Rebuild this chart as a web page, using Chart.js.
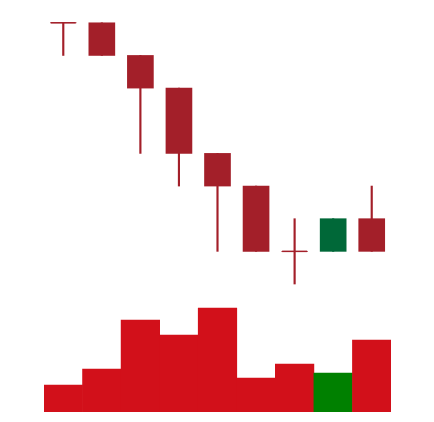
<!DOCTYPE html>
<html>
<head>
<meta charset="utf-8">
<script src="https://cdn.jsdelivr.net/npm/chart.js@4.4.1/dist/chart.umd.min.js"></script>
<style>
html,body{margin:0;padding:0;background:#fff;}
#wrap{width:434px;height:422px;}
</style>
</head>
<body>
<div id="wrap"><canvas id="c" width="434" height="422"></canvas></div>
<script>
const categories = ['1','2','3','4','5','6','7','8','9'];
const openPrices  = [28, 28, 27, 26, 24, 23, 21, 21, 22];
const highPrices  = [28, 28, 27, 26, 24, 23, 22, 22, 23];
const lowPrices   = [27, 27, 24, 23, 21, 21, 20, 21, 21];
const closePrices = [28, 27, 26, 24, 23, 21, 21, 22, 21];
const volumes     = [27, 43, 92, 77, 104, 34, 48, 39, 72];

const UP_CANDLE = '#006838', DOWN_CANDLE = '#A31F29';
const UP_VOL = '#008000', DOWN_VOL = '#D2101A';
const isUp = categories.map((_, i) => closePrices[i] > openPrices[i]);
const candleColors = isUp.map(u => u ? UP_CANDLE : DOWN_CANDLE);
const volColors = isUp.map(u => u ? UP_VOL : DOWN_VOL);

const dojiPlugin = {
  id: 'doji',
  afterDatasetsDraw(chart) {
    const ctx = chart.ctx;
    const xs = chart.scales.x, ys = chart.scales.yPrice;
    ctx.save();
    ctx.lineWidth = 1.5;
    categories.forEach((c, i) => {
      if (openPrices[i] === closePrices[i]) {
        const x = xs.getPixelForValue(i);
        const y = ys.getPixelForValue(openPrices[i]);
        ctx.strokeStyle = candleColors[i];
        ctx.beginPath();
        ctx.moveTo(x - 12.5, y);
        ctx.lineTo(x + 12.5, y);
        ctx.stroke();
      }
    });
    ctx.restore();
  }
};

new Chart(document.getElementById('c'), {
  type: 'bar',
  data: {
    labels: categories,
    datasets: [
      {
        label: 'volume',
        yAxisID: 'yVol',
        data: volumes,
        backgroundColor: volColors,
        barPercentage: 1,
        categoryPercentage: 1,
        grouped: false,
        order: 3
      },
      {
        label: 'wick',
        yAxisID: 'yPrice',
        data: categories.map((_, i) => [lowPrices[i], highPrices[i]]),
        backgroundColor: candleColors,
        barThickness: 1.5,
        grouped: false,
        order: 2
      },
      {
        label: 'body',
        yAxisID: 'yPrice',
        data: categories.map((_, i) => [openPrices[i], closePrices[i]]),
        backgroundColor: candleColors,
        barThickness: 26,
        grouped: false,
        order: 1
      }
    ]
  },
  options: {
    responsive: false,
    animation: false,
    layout: { padding: { left: 44, right: 43, top: 10, bottom: 10 } },
    plugins: { legend: { display: false }, tooltip: { enabled: false } },
    scales: {
      x: { display: false, offset: true, grid: { display: false } },
      yPrice: { display: false, position: 'left', min: 16.08, max: 28.392, grid: { display: false } },
      yVol: { display: false, position: 'right', min: 0, max: 402, grid: { display: false } }
    }
  },
  plugins: [dojiPlugin]
});
</script>
</body>
</html>
